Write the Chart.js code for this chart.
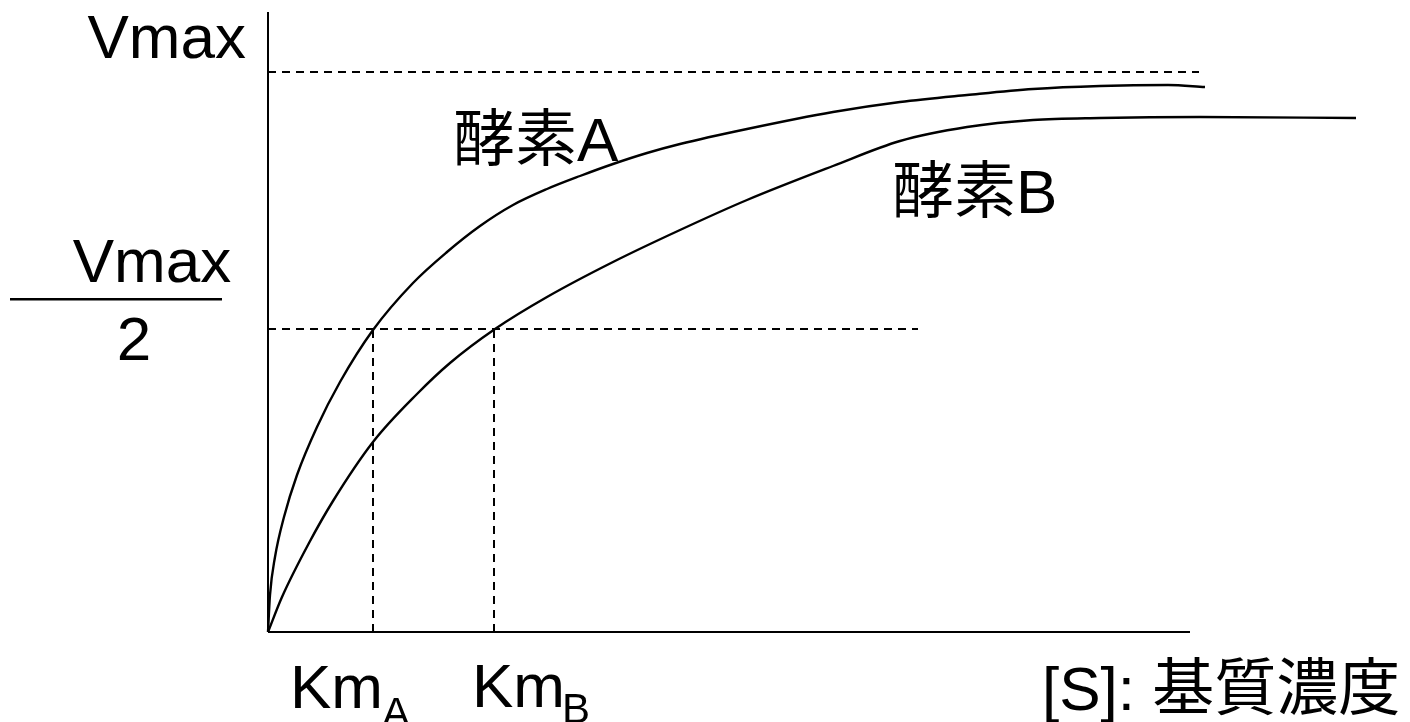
<!DOCTYPE html>
<html>
<head>
<meta charset="utf-8">
<script src="https://cdn.jsdelivr.net/npm/chart.js@4"></script>
<style>
  html, body { margin: 0; padding: 0; background: #fff; }
  #wrap { width: 1410px; height: 722px; position: relative; }
</style>
</head>
<body>
<div id="wrap"><canvas id="mmChart"></canvas></div>
<script>
// substrate concentration [S] (x) and velocity (y)
const sA = [0, 0.2, 0.7, 1.6, 2.9, 4.9, 7.2, 10.5, 14.5, 17.9, 21.2, 24.5, 27.9, 31.2, 34.5, 37.9, 41.2, 47.9, 56.5, 63.2, 69.9, 76.5, 83.2, 90.0, 93.7];
const vA = [0, 3.7, 7.5, 11.5, 15.7, 20.5, 25.0, 30.2, 34.9, 38.0, 40.6, 42.7, 44.3, 45.6, 46.8, 47.9, 48.8, 50.3, 52.0, 53.0, 53.7, 54.3, 54.6, 54.7, 54.5];

const sB = [0, 1.4, 4.1, 6.5, 10.5, 14.9, 18.2, 22.7, 27.9, 34.5, 41.2, 47.9, 56.5, 63.2, 69.9, 76.5, 83.2, 93.2, 108.8];
const vB = [0, 3.5, 8.9, 13.1, 19.0, 23.8, 26.9, 30.3, 33.5, 37.0, 40.2, 43.2, 46.6, 49.1, 50.5, 51.2, 51.4, 51.5, 51.4];

const vmax = 56;
const halfVmax = 30.3;
const kmA = 10.5;
const kmB = 22.6;
const vmaxLineEnd = 93.1;
const halfLineEnd = 65;
const xAxisEnd = 92.2;
const yAxisTop = 62;

const FONT = '"Liberation Sans", Arial, "Noto Sans CJK JP", sans-serif';

function pts(xs, ys) {
    return xs.map((x, i) => ({ x: x, y: ys[i] }));
}

function lineSet(data, dashed, width) {
    return {
        data: data,
        borderColor: '#000',
        borderWidth: width || 2,
        borderDash: dashed ? [8, 6] : [],
        pointRadius: 0,
        fill: false,
        clip: false,
        tension: 0
    };
}

const curveA = lineSet(pts(sA, vA), false, 2.4);
curveA.cubicInterpolationMode = 'monotone';
const curveB = lineSet(pts(sB, vB), false, 2.4);
curveB.cubicInterpolationMode = 'monotone';

// labels drawn on top, placed from the scales
const labelPlugin = {
    id: 'labels',
    afterDraw(chart) {
        const ctx = chart.ctx;
        const xs = chart.scales.x, ys = chart.scales.y;
        const x0 = xs.getPixelForValue(0);
        ctx.save();
        ctx.fillStyle = '#000';
        ctx.textBaseline = 'alphabetic';

        ctx.font = '62px ' + FONT;
        ctx.textAlign = 'right';
        ctx.fillText('Vmax', x0 - 22, ys.getPixelForValue(vmax) - 14);

        // Vmax / 2
        const yh = ys.getPixelForValue(halfVmax);
        ctx.textAlign = 'center';
        ctx.fillText('Vmax', 152, yh - 47);
        ctx.fillRect(10, yh - 31, 212, 2.5);
        ctx.fillText('2', 134, yh + 31);

        // Km labels
        ctx.textAlign = 'left';
        ctx.font = '62px ' + FONT;
        ctx.fillText('Km', xs.getPixelForValue(kmA) - 83, 708);
        ctx.fillText('Km', xs.getPixelForValue(kmB) - 22, 707);
        ctx.font = '42px ' + FONT;
        ctx.fillText('A', xs.getPixelForValue(kmA) + 9, 727);
        ctx.fillText('B', xs.getPixelForValue(kmB) + 68, 723);

        ctx.font = '62px ' + FONT;
        ctx.fillText('[S]: 基質濃度', 1042, 710);
        ctx.fillText('酵素A', 453, 161);
        ctx.fillText('酵素B', 892, 213);
        ctx.restore();
    }
};

const chart = new Chart(document.getElementById('mmChart'), {
    type: 'line',
    data: {
        datasets: [
            lineSet([{ x: 0, y: 0 }, { x: 0, y: yAxisTop }], false),
            lineSet([{ x: 0, y: 0 }, { x: xAxisEnd, y: 0 }], false),
            lineSet([{ x: 0, y: vmax }, { x: vmaxLineEnd, y: vmax }], true),
            lineSet([{ x: 0, y: halfVmax }, { x: halfLineEnd, y: halfVmax }], true),
            lineSet([{ x: kmA, y: 0 }, { x: kmA, y: halfVmax }], true),
            lineSet([{ x: kmB, y: 0 }, { x: kmB, y: halfVmax }], true),
            curveA,
            curveB
        ]
    },
    options: {
        responsive: true,
        maintainAspectRatio: false,
        animation: false,
        devicePixelRatio: 1,
        layout: { padding: { left: 268, right: 0, top: 12, bottom: 90 } },
        plugins: { legend: { display: false }, tooltip: { enabled: false } },
        scales: {
            x: { type: 'linear', min: 0, max: 114.2, display: false },
            y: { type: 'linear', min: 0, max: 62, display: false }
        }
    },
    plugins: [labelPlugin]
});
</script>
</body>
</html>
